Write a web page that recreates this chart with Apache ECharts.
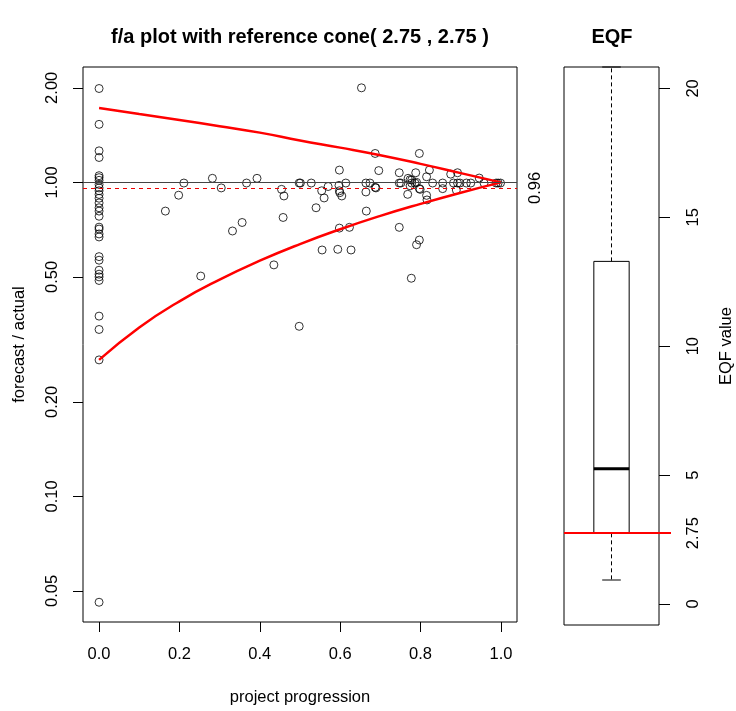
<!DOCTYPE html>
<html>
<head>
<meta charset="utf-8">
<script src="https://cdn.jsdelivr.net/npm/echarts@6/dist/echarts.min.js"></script>
<style>
    html, body { margin: 0; padding: 0; background: #fff; }
    #main { width: 736px; height: 711px; }
</style>
</head>
<body>
<div id="main"></div>
<script>
// project progression (x) and forecast / actual (y)
var progress = [
    0, 0, 0, 0, 0, 0, 0, 0, 0, 0, 0, 0, 0, 0, 0,
    0, 0, 0, 0, 0, 0, 0, 0, 0, 0, 0, 0, 0, 0, 0,
    0.165, 0.198, 0.211, 0.253, 0.282, 0.304, 0.332, 0.356, 0.367, 0.393,
    0.435, 0.454, 0.46, 0.458, 0.498, 0.501, 0.498, 0.528, 0.54, 0.554,
    0.56, 0.555, 0.57, 0.594, 0.598, 0.598, 0.597, 0.598, 0.599, 0.604,
    0.614, 0.623, 0.627, 0.653, 0.664, 0.674, 0.664, 0.665, 0.687, 0.689,
    0.696, 0.687, 0.797, 0.747, 0.788, 0.822, 0.815, 0.747, 0.751, 0.769,
    0.774, 0.778, 0.774, 0.786, 0.79, 0.768, 0.797, 0.799, 0.815, 0.816,
    0.83, 0.747, 0.797, 0.79, 0.777, 0.855, 0.855, 0.875, 0.892, 0.882,
    0.889, 0.892, 0.898, 0.914, 0.925, 0.946, 0.958, 0.988, 0.993, 0.999,
    0.778
];
var faRatio = [
    1.99, 1.53, 1.26, 1.20, 1.05, 1.035, 1.015, 0.985, 0.96, 0.94, 0.915, 0.89, 0.86, 0.83, 0.81,
    0.78, 0.72, 0.71, 0.685, 0.67, 0.58, 0.565, 0.525, 0.51, 0.50, 0.487, 0.375, 0.34, 0.272, 0.046,
    0.81, 0.91, 0.995, 0.503, 1.03, 0.96, 0.70, 0.745, 0.995, 1.03,
    0.546, 0.95, 0.905, 0.773, 0.995, 0.995, 0.348, 0.995, 0.83, 0.94,
    0.892, 0.609, 0.97, 0.612, 0.715, 1.094, 0.978, 0.94, 0.927, 0.905,
    0.995, 0.719, 0.609, 2.0, 0.995, 0.995, 0.932, 0.81, 0.964, 0.96,
    1.09, 1.236, 1.236, 1.073, 1.073, 1.094, 1.042, 0.995, 0.995, 1.03,
    1.02, 0.995, 0.975, 0.995, 1.0, 0.916, 0.955, 0.95, 0.909, 0.879,
    0.995, 0.719, 0.655, 0.633, 0.495, 0.995, 0.955, 1.062, 1.073, 0.995,
    0.945, 0.995, 0.995, 0.995, 0.995, 1.032, 0.995, 0.995, 0.995, 0.995,
    1.017
];

// reference cone, read at steps of 0.1
var coneX = [0, 0.1, 0.2, 0.3, 0.4, 0.5, 0.6, 0.7, 0.8, 0.9, 1.0];
var coneUpper = [1.725, 1.65, 1.58, 1.51, 1.44, 1.36, 1.29, 1.22, 1.145, 1.07, 1.0];
var coneLower = [0.272, 0.345, 0.418, 0.49, 0.563, 0.636, 0.709, 0.782, 0.854, 0.927, 1.0];

var medianFa = 0.96;
var coneParam = 2.75;

// EQF boxplot: lower whisker, Q1, median, Q3, upper whisker
var eqfStats = [0.93, 2.74, 5.25, 13.29, 20.83];

var progTicks = [0, 0.2, 0.4, 0.6, 0.8, 1.0];
var faTicks = [0.05, 0.1, 0.2, 0.5, 1, 2];
var eqfTicks = [0, 2.75, 5, 10, 15, 20];

var font = 'Liberation Sans, Arial, sans-serif';

var pts = [];
progress.forEach(function(x, i) {
    pts.push([x, faRatio[i]]);
});
var upper = [], lower = [];
coneX.forEach(function(x, i) {
    upper.push([x, coneUpper[i]]);
    lower.push([x, coneLower[i]]);
});

var myChart = echarts.init(document.getElementById('main'));

var option = {
    animation: false,
    backgroundColor: '#fff',
    textStyle: { fontFamily: font },
    title: [{
        text: 'f/a plot with reference cone( 2.75 , 2.75 )',
        left: 300, top: 27, padding: 0, textAlign: 'center',
        textStyle: { fontSize: 20, fontWeight: 'bold', color: '#000', fontFamily: font }
    }, {
        text: 'EQF',
        left: 612, top: 27, padding: 0, textAlign: 'center',
        textStyle: { fontSize: 20, fontWeight: 'bold', color: '#000', fontFamily: font }
    }],
    grid: [
        { left: 83, top: 67, width: 434, height: 558, show: true, borderColor: '#000', borderWidth: 1 },
        { left: 564, top: 67, width: 97, height: 558, show: true, borderColor: '#000', borderWidth: 1 }
    ],
    xAxis: [{
        gridIndex: 0,
        type: 'value',
        min: -0.04,
        max: 1.04,
        axisLine: { show: false, onZero: false },
        splitLine: { show: false },
        axisTick: { show: true, inside: false, length: 10, customValues: progTicks, lineStyle: { color: '#000' } },
        axisLabel: {
            customValues: progTicks, margin: 24, fontSize: 16.5, color: '#000', fontFamily: font,
            formatter: function(v) { return v.toFixed(1); }
        },
        name: 'project progression',
        nameLocation: 'middle',
        nameGap: 67,
        nameTextStyle: { fontSize: 16.5, color: '#000', fontFamily: font }
    }, {
        gridIndex: 1,
        type: 'category',
        data: ['EQF'],
        axisLine: { show: false, onZero: false },
        axisTick: { show: false },
        axisLabel: { show: false }
    }],
    yAxis: [{
        gridIndex: 0,
        type: 'log',
        min: 0.0398,
        max: 2.33,
        axisLine: { show: false, onZero: false },
        splitLine: { show: false },
        minorTick: { show: false },
        axisTick: { show: true, inside: false, length: 10, customValues: faTicks, lineStyle: { color: '#000' } },
        axisLabel: {
            customValues: faTicks, rotate: 90, margin: 22, fontSize: 16.5, color: '#000', fontFamily: font,
            formatter: function(v) { return (+v).toFixed(2); }
        },
        name: 'forecast / actual',
        nameLocation: 'middle',
        nameGap: 55,
        nameTextStyle: { fontSize: 16.5, color: '#000', fontFamily: font }
    }, {
        gridIndex: 1,
        type: 'value',
        position: 'right',
        min: -0.815,
        max: 20.83,
        axisLine: { show: false, onZero: false },
        splitLine: { show: false },
        axisTick: { show: true, inside: false, length: 11, customValues: eqfTicks, lineStyle: { color: '#000' } },
        axisLabel: {
            customValues: eqfTicks, rotate: 90, margin: 26, fontSize: 16.5, color: '#000', fontFamily: font,
            formatter: function(v) { return String(v); }
        },
        name: 'EQF value',
        nameLocation: 'middle',
        nameGap: 59,
        nameTextStyle: { fontSize: 16.5, color: '#000', fontFamily: font }
    }],
    series: [{
        name: 'f/a',
        type: 'scatter',
        xAxisIndex: 0,
        yAxisIndex: 0,
        symbol: 'circle',
        symbolSize: 8,
        itemStyle: { color: 'rgba(0,0,0,0)', borderColor: '#000', borderWidth: 1 },
        data: pts,
        markLine: {
            silent: true,
            symbol: 'none',
            label: { show: false },
            data: [
                { yAxis: 1, lineStyle: { color: '#444', type: 'solid', width: 1 } },
                { yAxis: medianFa, lineStyle: { color: '#e00', type: [4, 4], width: 1 } }
            ]
        }
    }, {
        name: 'upper cone',
        type: 'line',
        xAxisIndex: 0,
        yAxisIndex: 0,
        showSymbol: false,
        smooth: true,
        lineStyle: { color: '#f00', width: 2.5 },
        data: upper
    }, {
        name: 'lower cone',
        type: 'line',
        xAxisIndex: 0,
        yAxisIndex: 0,
        showSymbol: false,
        smooth: true,
        lineStyle: { color: '#f00', width: 2.5 },
        data: lower
    }, {
        // "0.96" label to the right of the left panel
        type: 'custom',
        xAxisIndex: 0,
        yAxisIndex: 0,
        data: [[1.04, medianFa]],
        renderItem: function(params, api) {
            var p = api.coord([api.value(0), api.value(1)]);
            return {
                type: 'text',
                x: p[0] + 18,
                y: p[1],
                rotation: Math.PI / 2,
                style: {
                    text: medianFa.toFixed(2),
                    align: 'center',
                    verticalAlign: 'middle',
                    font: '16.5px ' + font,
                    fill: '#000'
                }
            };
        }
    }, {
        // EQF boxplot
        type: 'custom',
        xAxisIndex: 1,
        yAxisIndex: 1,
        data: [[0].concat(eqfStats)],
        renderItem: function(params, api) {
            var cx = api.coord([api.value(0), 0])[0];
            var band = api.size([1, 0])[0];
            var hw = band * 0.186;
            var cw = band * 0.098;
            var yLo = api.coord([0, api.value(1)])[1];
            var yQ1 = api.coord([0, api.value(2)])[1];
            var yMed = api.coord([0, api.value(3)])[1];
            var yQ3 = api.coord([0, api.value(4)])[1];
            var yHi = api.coord([0, api.value(5)])[1];
            var dash = { stroke: '#000', lineWidth: 1, lineDash: [4, 3] };
            var solid = { stroke: '#000', lineWidth: 1 };
            return {
                type: 'group',
                children: [
                    { type: 'line', shape: { x1: cx, y1: yQ3, x2: cx, y2: yHi }, style: dash },
                    { type: 'line', shape: { x1: cx, y1: yQ1, x2: cx, y2: yLo }, style: dash },
                    { type: 'line', shape: { x1: cx - cw, y1: yLo, x2: cx + cw, y2: yLo }, style: solid },
                    { type: 'line', shape: { x1: cx - cw, y1: yHi, x2: cx + cw, y2: yHi }, style: solid },
                    { type: 'rect', shape: { x: cx - hw, y: yQ3, width: hw * 2, height: yQ1 - yQ3 },
                      style: { fill: 'none', stroke: '#000', lineWidth: 1 } },
                    { type: 'line', shape: { x1: cx - hw, y1: yMed, x2: cx + hw, y2: yMed },
                      style: { stroke: '#000', lineWidth: 3 } }
                ]
            };
        }
    }, {
        // red reference line at the cone parameter
        type: 'custom',
        xAxisIndex: 1,
        yAxisIndex: 1,
        data: [[0, coneParam]],
        renderItem: function(params, api) {
            var y = api.coord([0, api.value(1)])[1];
            var cs = params.coordSys;
            return {
                type: 'line',
                shape: { x1: cs.x, y1: y, x2: cs.x + cs.width + 12, y2: y },
                style: { stroke: '#f00', lineWidth: 2 }
            };
        }
    }]
};

myChart.setOption(option);
</script>
</body>
</html>
